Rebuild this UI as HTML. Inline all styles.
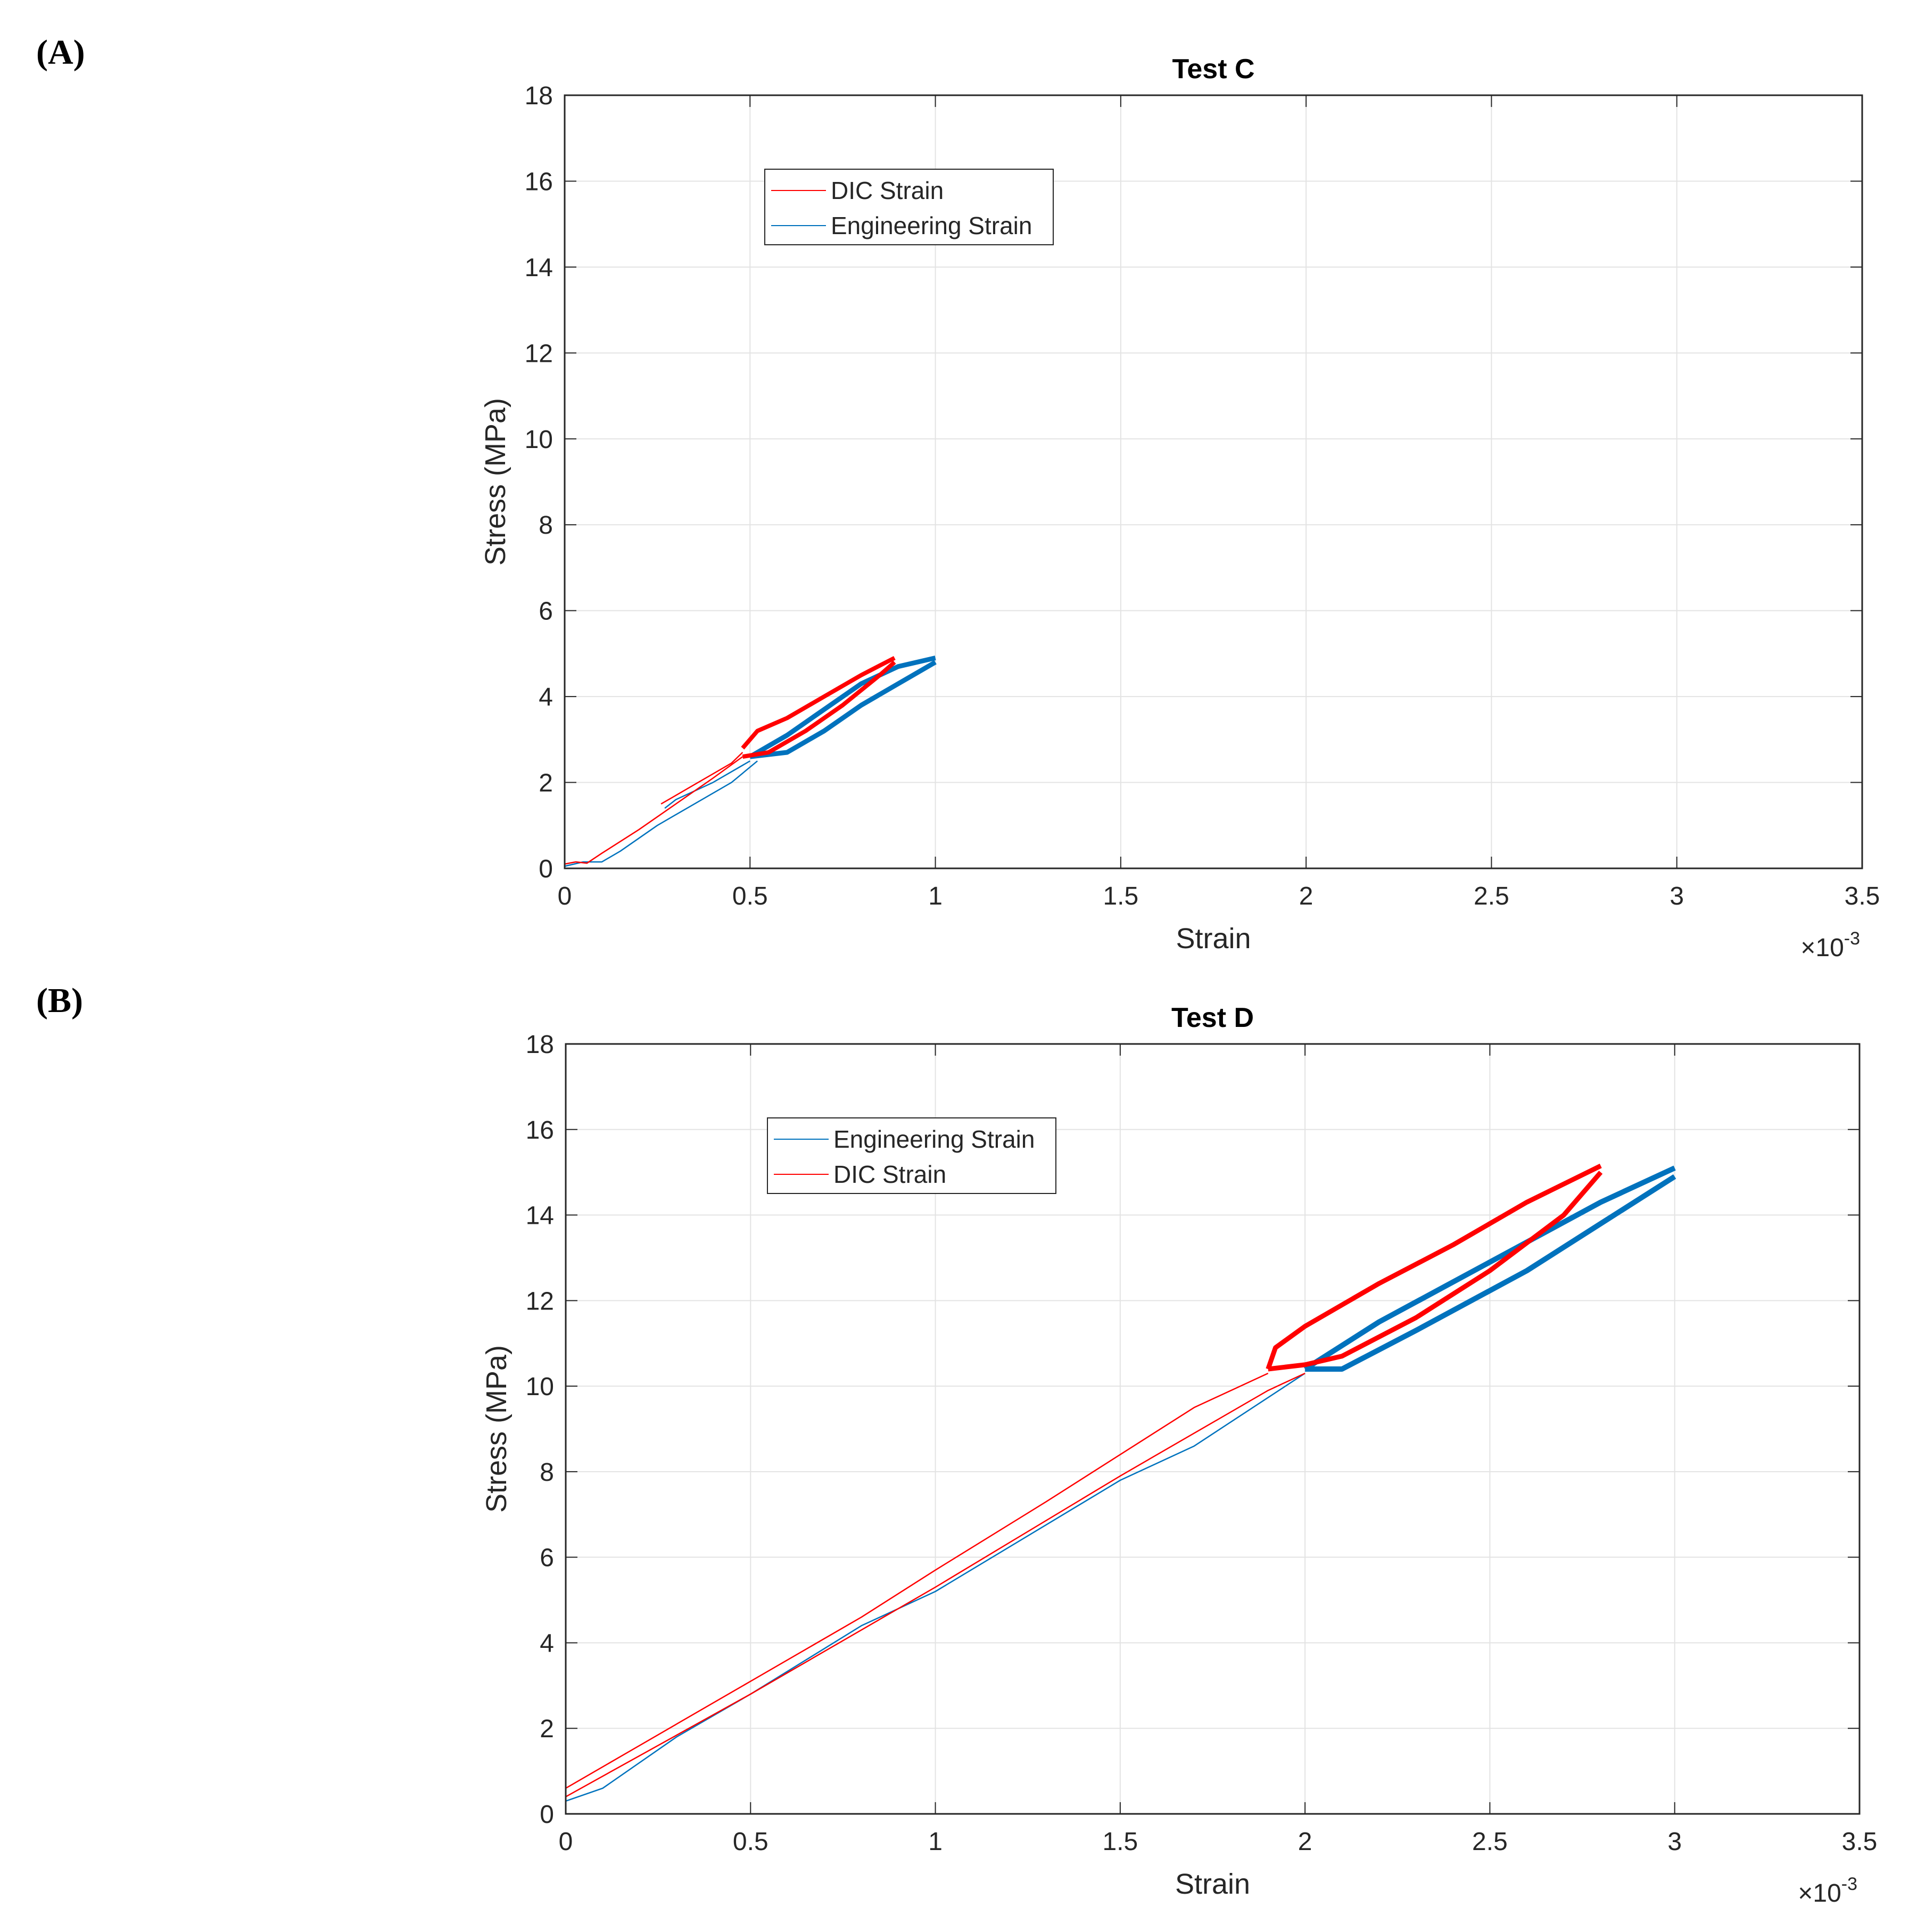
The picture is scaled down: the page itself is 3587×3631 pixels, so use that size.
<!DOCTYPE html>
<html><head><meta charset="utf-8">
<style>
html,body{margin:0;padding:0;background:#fff;}
svg{display:block;}
text{font-family:"Liberation Sans",Arial,sans-serif;fill:#262626;}
</style></head>
<body>
<svg id="fig" width="3587" height="3631" viewBox="0 0 3587 3631" xmlns="http://www.w3.org/2000/svg">
<rect width="3587" height="3631" fill="#fff"/>
<text x="68" y="120" font-size="66" font-weight="bold" style="font-family:'Liberation Serif',serif;fill:#000">(A)</text>
<text x="68" y="1902" font-size="66" font-weight="bold" style="font-family:'Liberation Serif',serif;fill:#000">(B)</text>
<g id="chartA"></g>
<g id="chartB"></g>
</svg>
<script>
// x-axis ticks (strain ×1e-3) and y-axis ticks (MPa)
const xTicks=[0,0.5,1,1.5,2,2.5,3,3.5];
const xTickLabels=["0","0.5","1","1.5","2","2.5","3","3.5"];
const yTicks=[0,2,4,6,8,10,12,14,16,18];
// Test C series
const cDicLoadX=[0,0.03,0.06,0.1,0.2,0.3,0.4,0.48];
const cDicLoadY=[0.1,0.15,0.12,0.35,0.9,1.5,2.1,2.6];
const cDicLoad2X=[0.26,0.3,0.35,0.4,0.45,0.48];
const cDicLoad2Y=[1.5,1.7,1.95,2.2,2.45,2.7];
const cDicUpX=[0.48,0.52,0.6,0.7,0.8,0.89];
const cDicUpY=[2.8,3.2,3.5,4.0,4.5,4.9];
const cDicLowX=[0.48,0.55,0.65,0.75,0.85,0.89];
const cDicLowY=[2.6,2.7,3.2,3.8,4.5,4.8];
const cEngLoadX=[0,0.05,0.1,0.15,0.25,0.35,0.45,0.52];
const cEngLoadY=[0.05,0.15,0.15,0.4,1.0,1.5,2.0,2.5];
const cEngLoad2X=[0.27,0.3,0.4,0.5];
const cEngLoad2Y=[1.4,1.6,2.0,2.5];
const cEngUpX=[0.5,0.6,0.7,0.8,0.9,1.0];
const cEngUpY=[2.6,3.1,3.7,4.3,4.7,4.9];
const cEngLowX=[0.5,0.6,0.7,0.8,0.9,1.0];
const cEngLowY=[2.6,2.7,3.2,3.8,4.3,4.8];
// Test D series
const dDicLoadX=[0,0.2,0.5,0.8,1.0,1.3,1.5,1.7,1.9];
const dDicLoadY=[0.6,1.6,3.1,4.6,5.7,7.3,8.4,9.5,10.3];
const dDicLoad2X=[0,0.5,1.0,1.5,1.9,2.0];
const dDicLoad2Y=[0.4,2.8,5.3,7.9,9.9,10.3];
const dDicUpX=[1.9,1.92,2.0,2.2,2.4,2.6,2.8];
const dDicUpY=[10.4,10.9,11.4,12.4,13.3,14.3,15.15];
const dDicLowX=[1.9,2.0,2.1,2.3,2.5,2.7,2.8];
const dDicLowY=[10.4,10.5,10.7,11.6,12.7,14.0,15.0];
const dEngLoadX=[0,0.1,0.3,0.5,0.8,1.0,1.5,1.7,2.0];
const dEngLoadY=[0.3,0.6,1.8,2.8,4.4,5.2,7.8,8.6,10.3];
const dEngUpX=[2.0,2.2,2.5,2.8,3.0];
const dEngUpY=[10.4,11.5,12.9,14.3,15.1];
const dEngLowX=[2.0,2.1,2.3,2.6,2.8,3.0];
const dEngLowY=[10.4,10.4,11.3,12.7,13.8,14.9];

const NS="http://www.w3.org/2000/svg";
function mk(p,t,a){const e=document.createElementNS(NS,t);for(const k in a)e.setAttribute(k,a[k]);p.appendChild(e);return e;}
function chart(g,L,R,T,B,title,series,legend){
  const sx=v=>L+(v/3.5)*(R-L), sy=v=>B-(v/18)*(B-T);
  xTicks.forEach((v,i)=>{
    const l=mk(g,'line',{x1:sx(v),x2:sx(v),y1:T,y2:B,stroke:'#e3e3e3','stroke-width':2});
    
    
    mk(g,'line',{x1:sx(v),x2:sx(v),y1:B,y2:B-22,stroke:'#262626','stroke-width':2});
    mk(g,'line',{x1:sx(v),x2:sx(v),y1:T,y2:T+22,stroke:'#262626','stroke-width':2});
    const t=mk(g,'text',{x:sx(v),y:B+68,'font-size':48,'text-anchor':'middle'});t.textContent=xTickLabels[i];
    
    
  });
  yTicks.forEach(v=>{
    const l=mk(g,'line',{x1:L,x2:R,y1:sy(v),y2:sy(v),stroke:'#e3e3e3','stroke-width':2});
    
    
    mk(g,'line',{x1:L,x2:L+22,y1:sy(v),y2:sy(v),stroke:'#262626','stroke-width':2});
    mk(g,'line',{x1:R,x2:R-22,y1:sy(v),y2:sy(v),stroke:'#262626','stroke-width':2});
    const t=mk(g,'text',{x:L-22,y:sy(v)+17,'font-size':48,'text-anchor':'end'});t.textContent=v;
    
    
  });
  series.forEach(s=>{
    const d=s.x.map((v,i)=>(i?'L':'M')+sx(v).toFixed(1)+','+sy(s.y[i]).toFixed(1)).join(' ');
    const p=mk(g,'path',{d:d,fill:'none',stroke:s.c,'stroke-width':s.w,'stroke-linejoin':'round'});
    
    
  });
  const fr=mk(g,'rect',{x:L,y:T,width:R-L,height:B-T,fill:'none',stroke:'#262626','stroke-width':3});
  
  
  const tt=mk(g,'text',{x:(L+R)/2,y:T-32,'font-size':52,'font-weight':'bold','text-anchor':'middle',style:'fill:#000'});tt.textContent=title;
  
  
  const xl=mk(g,'text',{x:(L+R)/2,y:B+150,'font-size':54,'text-anchor':'middle'});xl.textContent='Strain';
  
  
  const ex=mk(g,'text',{x:R-4,y:B+165,'font-size':48,'text-anchor':'end'});ex.innerHTML='×10<tspan dy="-22" font-size="34">-3</tspan>';
  
  
  const yl=mk(g,'text',{x:0,y:0,'font-size':54,'text-anchor':'middle',transform:`translate(${L-112},${(T+B)/2}) rotate(-90)`});yl.textContent='Stress (MPa)';
  
  
  const lg=mk(g,'g',{});
  
  
  mk(lg,'rect',{x:legend.x,y:legend.y,width:542,height:142,fill:'#fff',stroke:'#262626','stroke-width':2});
  legend.items.forEach((it,i)=>{
    const yy=legend.y+40+i*66;
    mk(lg,'line',{x1:legend.x+12,x2:legend.x+115,y1:yy,y2:yy,stroke:it.c,'stroke-width':2});
    const t=mk(lg,'text',{x:legend.x+124,y:yy+16,'font-size':46});t.textContent=it.t;
    
    
  });
}
const RED='#ff0000',BLUE='#0072bd';
chart(document.getElementById('chartA'),1061,3499,179,1632,'Test C',[
 {x:cEngLoadX,y:cEngLoadY,c:BLUE,w:2.5,n:'engineering-loading-line'},
 {x:cEngLoad2X,y:cEngLoad2Y,c:BLUE,w:2.5,n:'engineering-loading-line-2'},
 {x:cEngUpX,y:cEngUpY,c:BLUE,w:9,n:'engineering-loop-upper'},
 {x:cEngLowX,y:cEngLowY,c:BLUE,w:9,n:'engineering-loop-lower'},
 {x:cDicLoadX,y:cDicLoadY,c:RED,w:2.5,n:'dic-loading-line'},
 {x:cDicLoad2X,y:cDicLoad2Y,c:RED,w:2.5,n:'dic-loading-line-2'},
 {x:cDicUpX,y:cDicUpY,c:RED,w:8,n:'dic-loop-upper'},
 {x:cDicLowX,y:cDicLowY,c:RED,w:8,n:'dic-loop-lower'}
],{x:1437,y:318,items:[{t:'DIC Strain',c:RED},{t:'Engineering Strain',c:BLUE}]});
chart(document.getElementById('chartB'),1063,3494,1962,3409,'Test D',[
 {x:dEngLoadX,y:dEngLoadY,c:BLUE,w:2.5,n:'engineering-loading-line'},
 {x:dEngUpX,y:dEngUpY,c:BLUE,w:10,n:'engineering-loop-upper'},
 {x:dEngLowX,y:dEngLowY,c:BLUE,w:10,n:'engineering-loop-lower'},
 {x:dDicLoadX,y:dDicLoadY,c:RED,w:2.5,n:'dic-loading-line'},
 {x:dDicLoad2X,y:dDicLoad2Y,c:RED,w:2.5,n:'dic-loading-line-2'},
 {x:dDicUpX,y:dDicUpY,c:RED,w:9,n:'dic-loop-upper'},
 {x:dDicLowX,y:dDicLowY,c:RED,w:9,n:'dic-loop-lower'}
],{x:1442,y:2101,items:[{t:'Engineering Strain',c:BLUE},{t:'DIC Strain',c:RED}]});
</script>
</body></html>
